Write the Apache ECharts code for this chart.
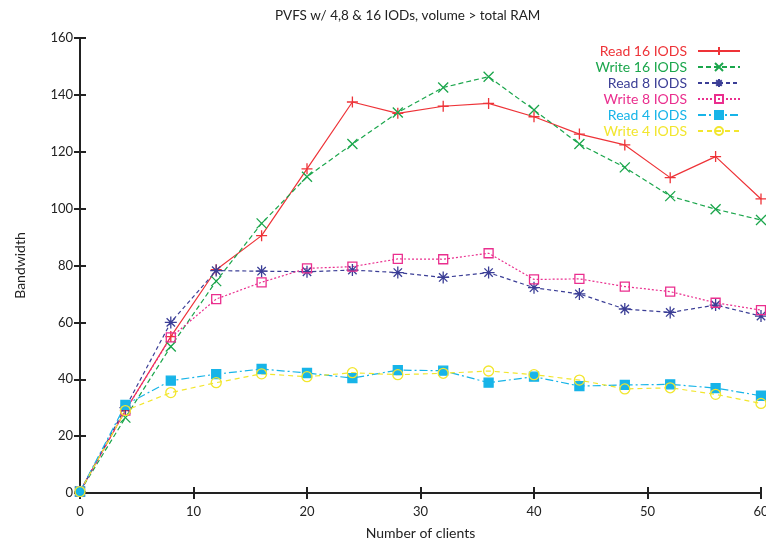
<!DOCTYPE html>
<html><head><meta charset="utf-8">
<script src="https://cdn.jsdelivr.net/npm/echarts@6/dist/echarts.min.js"></script>
<style>html,body{margin:0;padding:0;background:#fff}#c{width:766px;height:540px}</style>
</head><body><div id="c"></div>
<script>
const clients = [0,4,8,12,16,20,24,28,32,36,40,44,48,52,56,60];
const read16  = [0.5,29,55,78.5,90.5,114,137.5,133.5,136,137,132.3,126.2,122.4,110.9,118.3,103.4];
const write16 = [0.5,26.5,51.5,74.5,94.8,111.2,122.7,133.8,142.6,146.4,134.7,122.7,114.5,104.4,99.8,96];
const read8   = [0.5,30,60,78.2,78,77.8,78.4,77.5,75.8,77.5,72.2,70,64.7,63.5,66.1,62.2];
const write8  = [0.5,29,54.7,68.2,74.1,79,79.6,82.3,82.2,84.3,75.1,75.3,72.6,70.8,66.9,64.3];
const read4   = [0.5,31,39.5,41.8,43.6,42.2,40.4,43.2,43,38.8,40.9,37.6,38,38.2,36.9,34.2];
const write4  = [0.5,29,35.3,38.8,41.9,40.9,42.3,41.6,42.1,42.9,41.6,39.7,36.6,37,34.7,31.5];
const seriesNames = ['Read 16 IODS','Write 16 IODS','Read 8 IODS','Write 8 IODS','Read 4 IODS','Write 4 IODS'];
const xTicks = {min:0,max:60,interval:10};
const yTicks = {min:0,max:160,interval:20};

const FONT = 'Lato';
const C = {r16:'#ee3338', w16:'#1ba64c', r8:'#3b3e96', w8:'#ea2e8e', r4:'#17b4e8', w4:'#f2e62e'};
const plus = 'path://M0,5L10,5M5,0L5,10';
const cross = 'path://M0,0L10,10M10,0L0,10';
const star = 'path://M0,5L10,5M5,0L5,10M1.5,1.5L8.5,8.5M8.5,1.5L1.5,8.5';
function pts(ys){return clients.map((x,i)=>[x,ys[i]]);}
function mk(name, data, color, type, symbol, size, fill){
  return {
    name, type:'line', data:pts(data), xAxisIndex:0, yAxisIndex:0,
    symbol, symbolSize:size, showSymbol:true,
    lineStyle:{color, width:1.2, type},
    itemStyle:{color:fill, borderColor:color, borderWidth:1.3},
    emphasis:{disabled:true}, animation:false
  };
}
const series = [
  mk(seriesNames[0], read16, C.r16, 'solid', plus, 11, C.r16),
  mk(seriesNames[1], write16, C.w16, [5,3], cross, 10, C.w16),
  mk(seriesNames[2], read8, C.r8, [4,3], star, 12, C.r8),
  mk(seriesNames[3], write8, C.w8, [2,2], 'rect', 9, 'rgba(0,0,0,0)'),
  mk(seriesNames[4], read4, C.r4, [8,3,2,3], 'rect', 9, C.r4),
  mk(seriesNames[5], write4, C.w4, [5,4], 'circle', 10, 'rgba(0,0,0,0)')
];
const colors=[C.r16,C.w16,C.r8,C.w8,C.r4,C.w4];
const axisCommon = {
  axisLine:{show:true, lineStyle:{color:'#222', width:2}},
  axisTick:{show:true, inside:true, length:6, lineStyle:{color:'#222', width:2}},
  splitLine:{show:false}
};
const chart = echarts.init(document.getElementById('c'), null, {renderer:'canvas'});
chart.setOption({
  animation:false,
  backgroundColor:'#fff',
  textStyle:{fontFamily:FONT},
  title:{text:'PVFS w/ 4,8 & 16 IODs, volume > total RAM', left:270, top:4,
    textStyle:{fontFamily:FONT, fontSize:13.5, fontWeight:'normal', color:'#222'}},
  grid:{left:80, right:5, top:38, bottom:47, containLabel:false, outerBoundsMode:'none'},
  legend:{
    orient:'vertical', right:20, top:39, align:'right',
    itemWidth:42, itemHeight:10, itemGap:2,
    data: seriesNames.map((n,i)=>({name:n, textStyle:{color:colors[i]}})),
    textStyle:{fontFamily:FONT, fontSize:14, padding:[0,6,0,0], lineHeight:14}
  },
  xAxis:[
    Object.assign({type:'value', position:'bottom', min:xTicks.min, max:xTicks.max, interval:xTicks.interval,
      name:'Number of clients', nameLocation:'middle', nameGap:33,
      nameTextStyle:{fontFamily:FONT, fontSize:14, color:'#222'},
      axisLabel:{fontFamily:FONT, fontSize:13, color:'#222', margin:12}}, axisCommon),
    Object.assign({type:'value', position:'top', min:xTicks.min, max:xTicks.max, interval:xTicks.interval,
      axisLabel:{show:false}}, axisCommon)
  ],
  yAxis:[
    Object.assign({type:'value', position:'left', min:yTicks.min, max:yTicks.max, interval:yTicks.interval,
      name:'Bandwidth', nameLocation:'middle', nameGap:53, nameRotate:90,
      nameTextStyle:{fontFamily:FONT, fontSize:14, color:'#222'},
      axisLabel:{fontFamily:FONT, fontSize:13, color:'#222', margin:7}}, axisCommon),
    Object.assign({type:'value', position:'right', min:yTicks.min, max:yTicks.max, interval:yTicks.interval,
      axisLabel:{show:false}}, axisCommon)
  ],
  series
});
</script></body></html>
